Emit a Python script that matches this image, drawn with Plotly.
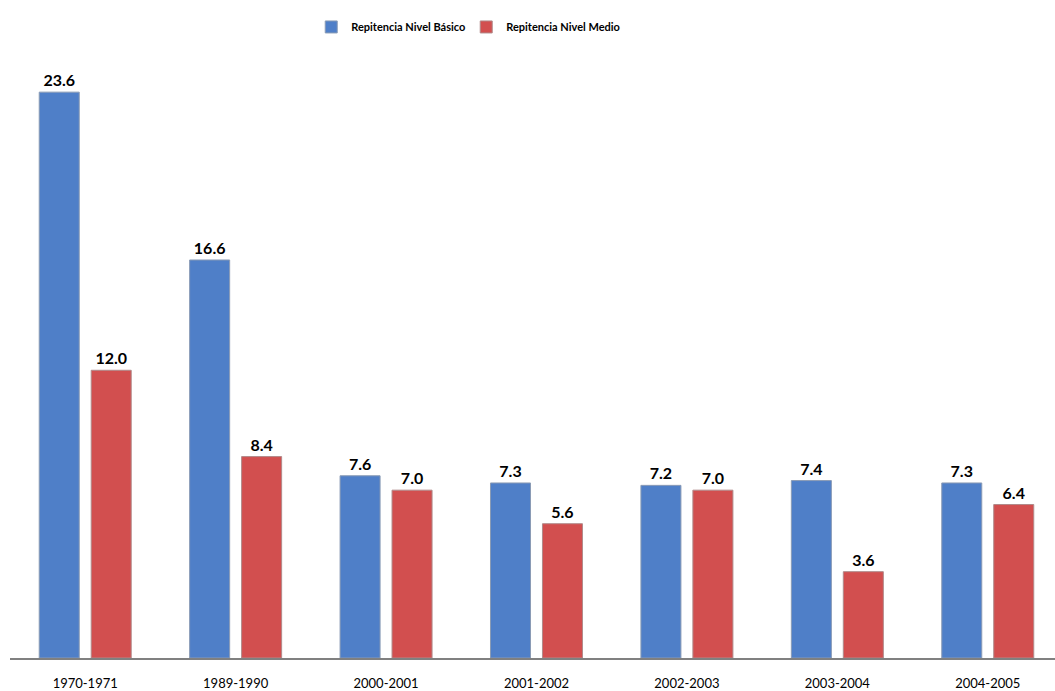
import plotly.graph_objects as go

categories = ["1970-1971", "1989-1990", "2000-2001", "2001-2002", "2002-2003", "2003-2004", "2004-2005"]
basico = [23.6, 16.6, 7.6, 7.3, 7.2, 7.4, 7.3]
medio = [12.0, 8.4, 7.0, 5.6, 7.0, 3.6, 6.4]
series_names = ["Repitencia Nivel Básico", "Repitencia Nivel Medio"]

FONT = "Lato, 'Open Sans', sans-serif"

fig = go.Figure()
fig.add_trace(go.Bar(
    x=categories, y=basico, name=series_names[0],
    marker=dict(color="#4F7FC8", line=dict(color="#8A9BB5", width=1)),
    text=[f"{v:.1f}" for v in basico], textposition="outside",
    textfont=dict(family=FONT, size=16, color="#000000", weight="bold"),
    cliponaxis=False,
))
fig.add_trace(go.Bar(
    x=categories, y=medio, name=series_names[1],
    marker=dict(color="#D24F4F", line=dict(color="#B08A8A", width=1)),
    text=[f"{v:.1f}" for v in medio], textposition="outside",
    textfont=dict(family=FONT, size=16, color="#000000", weight="bold"),
    cliponaxis=False,
))

fig.update_layout(
    width=1055, height=691,
    margin=dict(l=10, r=0, t=60, b=33),
    paper_bgcolor="white", plot_bgcolor="white",
    barmode="group", bargap=0.309, bargroupgap=0.23,
    showlegend=True,
    legend=dict(orientation="h", x=0.295, xanchor="left", y=0.982, yanchor="top",
                xref="container", yref="container",
                font=dict(family=FONT, size=11, color="#000000", weight="bold"),
                itemwidth=30, traceorder="normal", entrywidth=110, entrywidthmode="pixels"),
    xaxis=dict(range=[-0.5, 6.447], showgrid=False, showline=True, linecolor="#808080", linewidth=2,
               ticks="", tickfont=dict(family=FONT, size=13, color="#000000"), ticklabelstandoff=12),
    yaxis=dict(range=[0, 24.94], visible=False),
)

fig.write_html("out.html")
